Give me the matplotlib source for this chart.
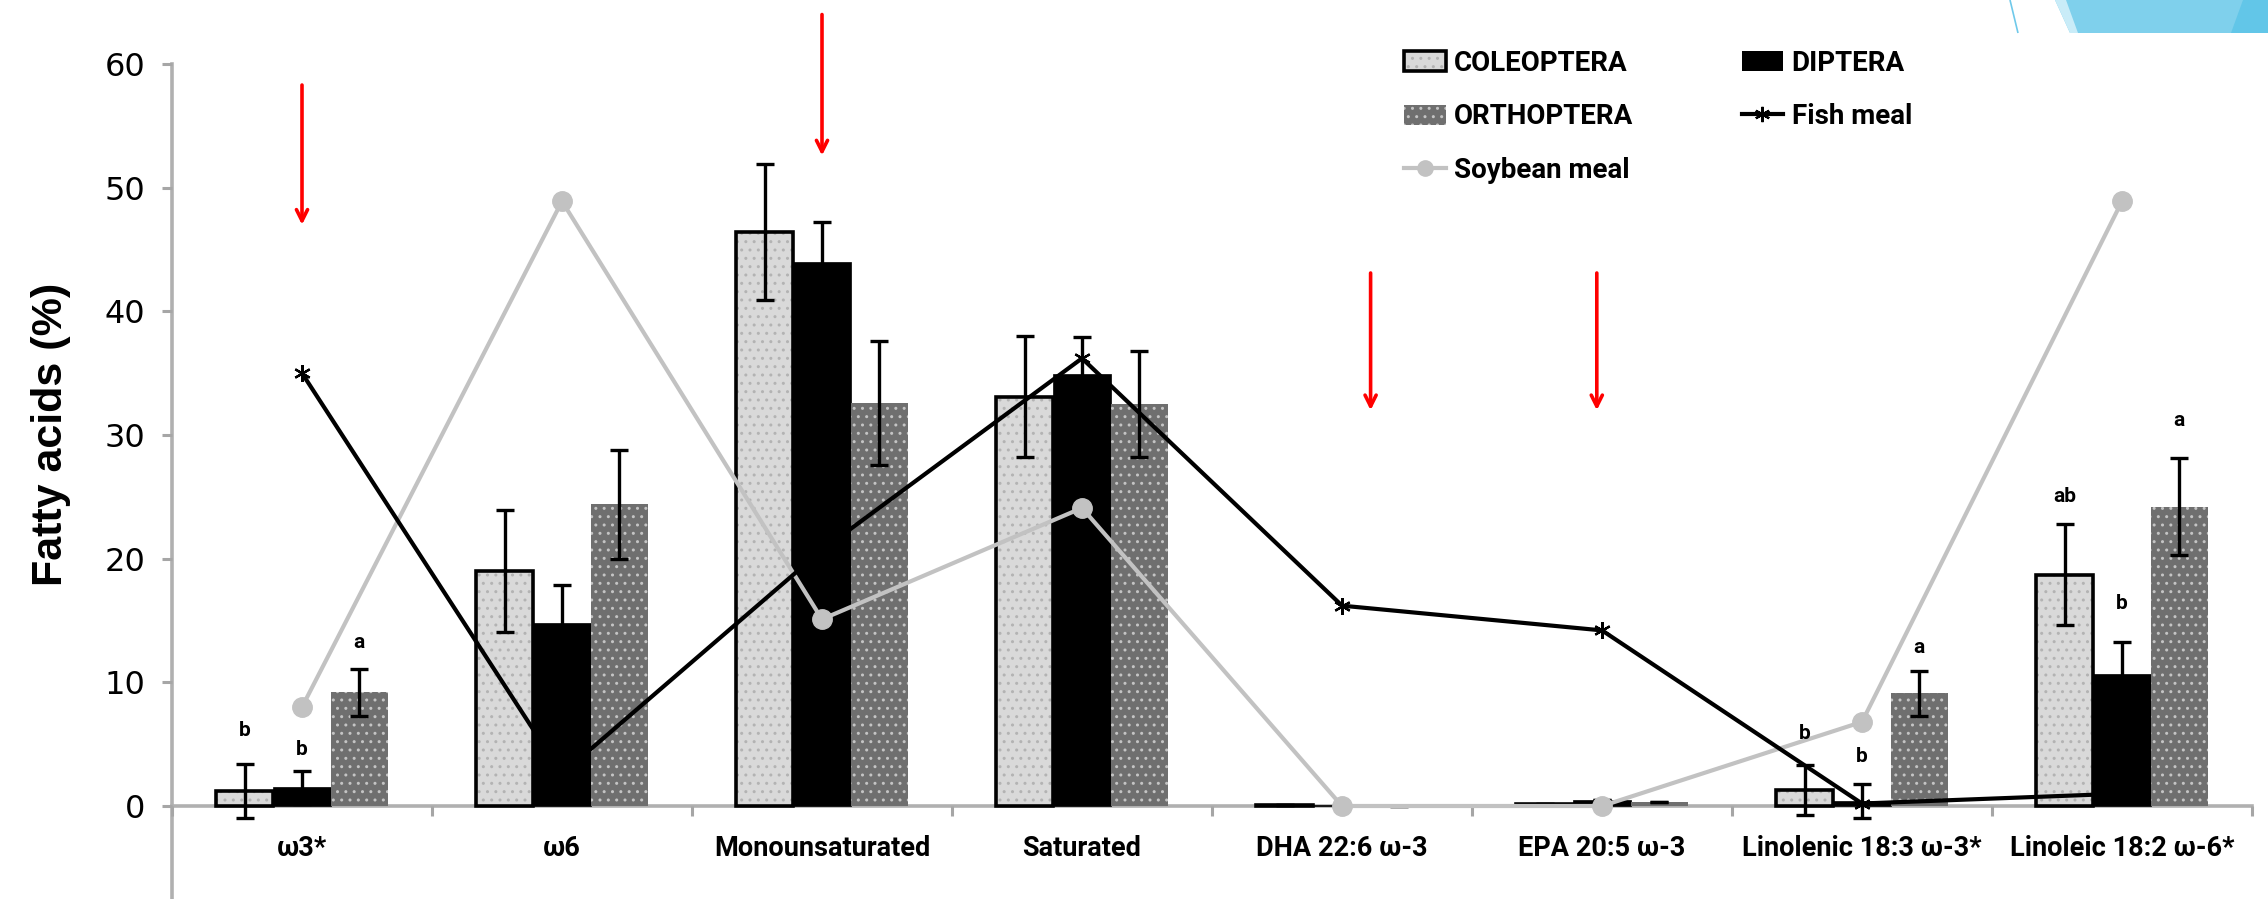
import numpy as np
import matplotlib.pyplot as plt
from matplotlib.patches import Patch, Polygon
from matplotlib.lines import Line2D

categories = ["ω3*", "ω6", "Monounsaturated", "Saturated", "DHA 22:6 ω-3",
              "EPA 20:5 ω-3", "Linolenic 18:3 ω-3*", "Linoleic 18:2 ω-6*"]

coleoptera = [1.2, 19.0, 46.4, 33.1, 0.1, 0.2, 1.3, 18.7]
coleoptera_err = [2.2, 4.9, 5.5, 4.9, 0.0, 0.0, 2.0, 4.1]
diptera = [1.5, 14.8, 44.0, 34.9, 0.1, 0.5, 0.4, 10.7]
diptera_err = [1.3, 3.1, 3.2, 3.0, 0.0, 0.0, 1.4, 2.6]
orthoptera = [9.2, 24.4, 32.6, 32.5, 0.0, 0.3, 9.1, 24.2]
orthoptera_err = [1.9, 4.4, 5.0, 4.3, 0.0, 0.0, 1.8, 3.9]
fish_meal = [35.0, 2.6, 20.7, 36.2, 16.2, 14.2, 0.2, 1.0]
soybean_meal = [8.0, 48.9, 15.1, 24.1, 0.0, 0.0, 6.8, 48.9]

# significance letters: category index, series offset, y, text
letters_cat = [0, 0, 0, 6, 6, 6, 7, 7, 7]
letters_ser = [-1, 0, 1, -1, 0, 1, -1, 0, 1]
letters_y = [6.1, 4.6, 13.2, 5.9, 4.0, 12.8, 25.0, 16.4, 31.2]
letters_txt = ["b", "b", "a", "b", "b", "a", "ab", "b", "a"]

# red arrows: x in category units, y start / end
arrow_x = [0.0, 2.0, 4.11, 4.98]
arrow_y0 = [58.3, 64.0, 43.1, 43.1]
arrow_y1 = [47.0, 52.6, 32.0, 32.0]

W, H = 2268, 899
fig = plt.figure(figsize=(W / 100, H / 100), dpi=100)
ax = fig.add_axes([172 / W, 0, (2252 - 172) / W, 1 - 64 / H])

x = np.arange(len(categories))
w = 0.22
col_face, col_dot = "#d9d9d9", "#b3b3b3"
ort_face, ort_dot = "#6f6f6f", "#c4c4c4"
lab_font = ["Roboto", "DejaVu Sans"]

ax.bar(x - w, coleoptera, w, color=col_face, edgecolor=col_dot, hatch="..",
       linewidth=0, zorder=2)
ax.bar(x - w, coleoptera, w, fill=False, edgecolor="black", linewidth=2.6, zorder=2)
ax.bar(x, diptera, w, color="black", edgecolor="black", linewidth=0.5, zorder=2)
ax.bar(x + w, orthoptera, w, color=ort_face, edgecolor=ort_dot, hatch="..",
       linewidth=0, zorder=2)

for off, vals, err in [(-w, coleoptera, coleoptera_err), (0, diptera, diptera_err),
                       (w, orthoptera, orthoptera_err)]:
    ax.errorbar(x + off, vals, yerr=err, fmt="none", ecolor="black",
                elinewidth=2.4, capsize=6.5, capthick=2.4, zorder=3)

ax.plot(x, soybean_meal, color="#c2c2c2", lw=3, marker="o", ms=14,
        mec="#c2c2c2", zorder=4)
ax.plot(x, fish_meal, color="black", lw=3, marker=(6, 2, 0), ms=12, mew=1.6,
        zorder=5)

for c, s, yv, t in zip(letters_cat, letters_ser, letters_y, letters_txt):
    ax.text(c + s * w, yv, t, ha="center", va="center", fontsize=15,
            fontweight="bold", family=lab_font, zorder=6)

for xa, y0, y1 in zip(arrow_x, arrow_y0, arrow_y1):
    ax.annotate("", xy=(xa, y1), xytext=(xa, y0), annotation_clip=False,
                arrowprops=dict(arrowstyle="->,head_length=0.8,head_width=0.4",
                                color="#ff0000", lw=2.6, shrinkA=0, shrinkB=0))

for s in ["top", "right"]:
    ax.spines[s].set_visible(False)
ax.spines["bottom"].set_position(("data", 0))
ax.spines["bottom"].set_color("#b0b0b0")
ax.spines["bottom"].set_linewidth(2.6)
ax.spines["left"].set_color("#b0b0b0")
ax.spines["left"].set_linewidth(2.6)
ax.spines["left"].set_zorder(1)
ax.spines["bottom"].set_zorder(1)

ax.set_xlim(-0.5, 7.5)
ax.set_ylim(-7.52, 60)
ax.set_yticks(np.arange(0, 61, 10))
ax.tick_params(axis="y", length=7, width=2.2, color="#a6a6a6", pad=12,
               labelsize=23)
ax.set_xticks(np.arange(-0.5, 8, 1), minor=True)
ax.tick_params(axis="x", which="major", length=0, pad=21, labelsize=19.5)
ax.tick_params(axis="x", which="minor", length=7, width=2.2, color="#a6a6a6")
ax.set_xticks(x)
ax.set_xticklabels(categories, fontsize=19.5, fontweight="bold", family=lab_font)

fig.text(51 / W, 1 - 434 / H, "Fatty acids (%)", rotation=90, ha="center",
         va="center", fontsize=31, fontweight="bold", family="Liberation Sans")

h_col = (Patch(facecolor=col_face, edgecolor=col_dot, hatch="..", linewidth=0),
         Patch(fill=False, edgecolor="black", linewidth=2.6))
h_ort = Patch(facecolor=ort_face, edgecolor=ort_dot, hatch="..", linewidth=0)
h_dip = Patch(facecolor="black")
h_soy = Line2D([], [], color="#c2c2c2", lw=3, marker="o", ms=11, mec="#c2c2c2")
h_fish = Line2D([], [], color="black", lw=3, marker=(6, 2, 0), ms=11, mew=1.6)
fig.legend([h_col, h_ort, h_soy, h_dip, h_fish],
           ["COLEOPTERA", "ORTHOPTERA", "Soybean meal", "DIPTERA", "Fish meal"],
           ncol=2, loc="upper left", bbox_to_anchor=(1404 / W, 1 - 50 / H),
           frameon=False, prop={"family": lab_font, "weight": "bold", "size": 20},
           handlelength=1.5, handleheight=0.75, handletextpad=0.3,
           labelspacing=0.95, columnspacing=3.9, borderpad=0, borderaxespad=0)

# slide decoration in the top right corner
fig.add_artist(Polygon([[2010 / W, 1], [2018 / W, 1 - 33 / H]], closed=False,
                       transform=fig.transFigure, edgecolor="#6fc9ea", lw=1.2,
                       fill=False))
fig.add_artist(Polygon([[2055 / W, 1], [2268 / W, 1], [2268 / W, 1 - 33 / H],
                        [2070 / W, 1 - 33 / H]], transform=fig.transFigure,
                       facecolor="#7fd0ec", edgecolor="none"))
fig.add_artist(Polygon([[2055 / W, 1], [2066 / W, 1], [2078 / W, 1 - 33 / H],
                        [2070 / W, 1 - 33 / H]], transform=fig.transFigure,
                       facecolor="#c9ecf8", edgecolor="none"))
fig.add_artist(Polygon([[2243 / W, 1], [2268 / W, 1], [2268 / W, 1 - 33 / H],
                        [2231 / W, 1 - 33 / H]], transform=fig.transFigure,
                       facecolor="#62c6e8", edgecolor="none"))

fig.savefig("out.png", dpi=100)
